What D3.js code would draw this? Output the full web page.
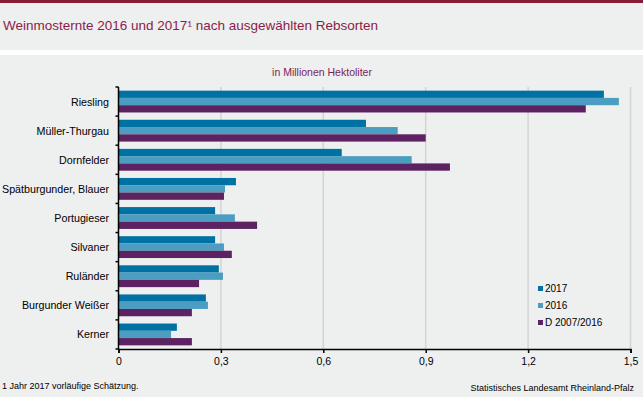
<html>
<head>
<meta charset="utf-8">
<script src="https://d3js.org/d3.v7.min.js"></script>
<style>
  body { margin: 0; background: #eeefef; }
  text { font-family: "Liberation Sans", Arial, sans-serif; }
</style>
</head>
<body>
<div id="chart"></div>
<script>
var width = 643, height = 397

// data, million hectolitres
var sorten = ['Riesling', 'Müller-Thurgau', 'Dornfelder', 'Spätburgunder, Blauer',
  'Portugieser', 'Silvaner', 'Ruländer', 'Burgunder Weißer', 'Kerner']
var v2017 = [1.422, 0.725, 0.654, 0.344, 0.283, 0.283, 0.294, 0.256, 0.171]
var v2016 = [1.466, 0.818, 0.859, 0.312, 0.341, 0.309, 0.306, 0.262, 0.154]
var vMittel = [1.369, 0.900, 0.971, 0.309, 0.406, 0.332, 0.236, 0.215, 0.215]
var serien = ['2017', '2016', 'D 2007/2016']
var farben = ['#0071a3', '#4b9ec1', '#5c2261']
var xTicks = [0, 0.3, 0.6, 0.9, 1.2, 1.5]

var werte = [v2017, v2016, vMittel]

var svg = d3.select('#chart').append('svg')
  .attr('width', width)
  .attr('height', height)

// header
svg.append('rect').attr('x', 0).attr('y', 0).attr('width', width).attr('height', 50).attr('fill', '#eeefef')
svg.append('rect').attr('x', 0).attr('y', 0).attr('width', width).attr('height', 3).attr('fill', '#8b1c36')
svg.append('rect').attr('x', 0).attr('y', 50).attr('width', width).attr('height', 5).attr('fill', '#ffffff')
svg.append('rect').attr('x', 0).attr('y', 55).attr('width', width).attr('height', height - 55).attr('fill', '#eeefef')

svg.append('text')
  .attr('x', 3).attr('y', 30)
  .attr('font-size', 13.5)
  .attr('fill', '#8b1c4a')
  .text('Weinmosternte 2016 und 2017¹ nach ausgewählten Rebsorten')

svg.append('text')
  .attr('x', 322).attr('y', 76)
  .attr('text-anchor', 'middle')
  .attr('font-size', 10.5)
  .attr('fill', '#7a2458')
  .text('in Millionen Hektoliter')

var x = d3.scaleLinear().domain([0, 1.5]).range([118.5, 630.5])
var y = d3.scaleBand().domain(sorten).range([87, 349]).paddingInner(0.25).paddingOuter(0.125)
var ySub = d3.scaleBand().domain(serien).range([0, y.bandwidth()])

// gridlines
svg.append('g').selectAll('line')
  .data(xTicks.slice(1))
  .join('line')
  .attr('x1', d => x(d)).attr('x2', d => x(d))
  .attr('y1', 87).attr('y2', 349)
  .attr('stroke', '#d4d4d4')
  .attr('stroke-width', 1.5)

// bars
serien.forEach(function (s, k) {
  svg.append('g').selectAll('rect')
    .data(sorten)
    .join('rect')
    .attr('x', x(0))
    .attr('y', d => y(d) + ySub(s))
    .attr('width', (d, i) => x(werte[k][i]) - x(0))
    .attr('height', ySub.bandwidth())
    .attr('fill', farben[k])
})

// y axis with ticks at band borders
var yAxisG = svg.append('g')
yAxisG.append('line')
  .attr('x1', x(0)).attr('x2', x(0)).attr('y1', 87).attr('y2', 349)
  .attr('stroke', '#000').attr('stroke-width', 1.5)
var borders = d3.range(sorten.length + 1).map(i => 87 + i * y.step())
yAxisG.selectAll('.yt')
  .data(borders)
  .join('line')
  .attr('x1', x(0) - 3).attr('x2', x(0))
  .attr('y1', d => d).attr('y2', d => d)
  .attr('stroke', '#000').attr('stroke-width', 1.5)
yAxisG.selectAll('text')
  .data(sorten)
  .join('text')
  .attr('x', 109)
  .attr('y', d => y(d) + y.bandwidth() / 2 + 4)
  .attr('text-anchor', 'end')
  .attr('font-size', 10.7)
  .attr('fill', '#000')
  .text(d => d)

// x axis
var xAxis = d3.axisBottom(x)
  .tickValues(xTicks)
  .tickSize(4)
  .tickFormat(d => d3.format('.1f')(d).replace('.', ',').replace(/^0,0$/, '0'))
var xg = svg.append('g').attr('transform', 'translate(0,349)').call(xAxis)
xg.select('.domain').attr('stroke', '#000').attr('stroke-width', 1.5)
xg.selectAll('.tick line').attr('stroke', '#000').attr('stroke-width', 1.5)
xg.selectAll('.tick text')
  .attr('font-size', 10.5)
  .attr('font-family', '"Liberation Sans", Arial, sans-serif')
  .attr('fill', '#000')
  .attr('dy', '0.9em')

// legend
var legend = svg.append('g')
serien.forEach(function (s, k) {
  legend.append('rect')
    .attr('x', 538).attr('y', 286 + k * 17)
    .attr('width', 5).attr('height', 5)
    .attr('fill', farben[k])
  legend.append('text')
    .attr('x', 545).attr('y', 292 + k * 17)
    .attr('font-size', 10)
    .attr('fill', '#000')
    .text(s)
})

// footer
svg.append('text')
  .attr('x', 2).attr('y', 389)
  .attr('font-size', 9)
  .attr('fill', '#000')
  .text('1 Jahr 2017 vorläufige Schätzung.')
svg.append('text')
  .attr('x', 634).attr('y', 391)
  .attr('text-anchor', 'end')
  .attr('font-size', 9)
  .attr('fill', '#000')
  .text('Statistisches Landesamt Rheinland-Pfalz')
</script>
</body>
</html>
